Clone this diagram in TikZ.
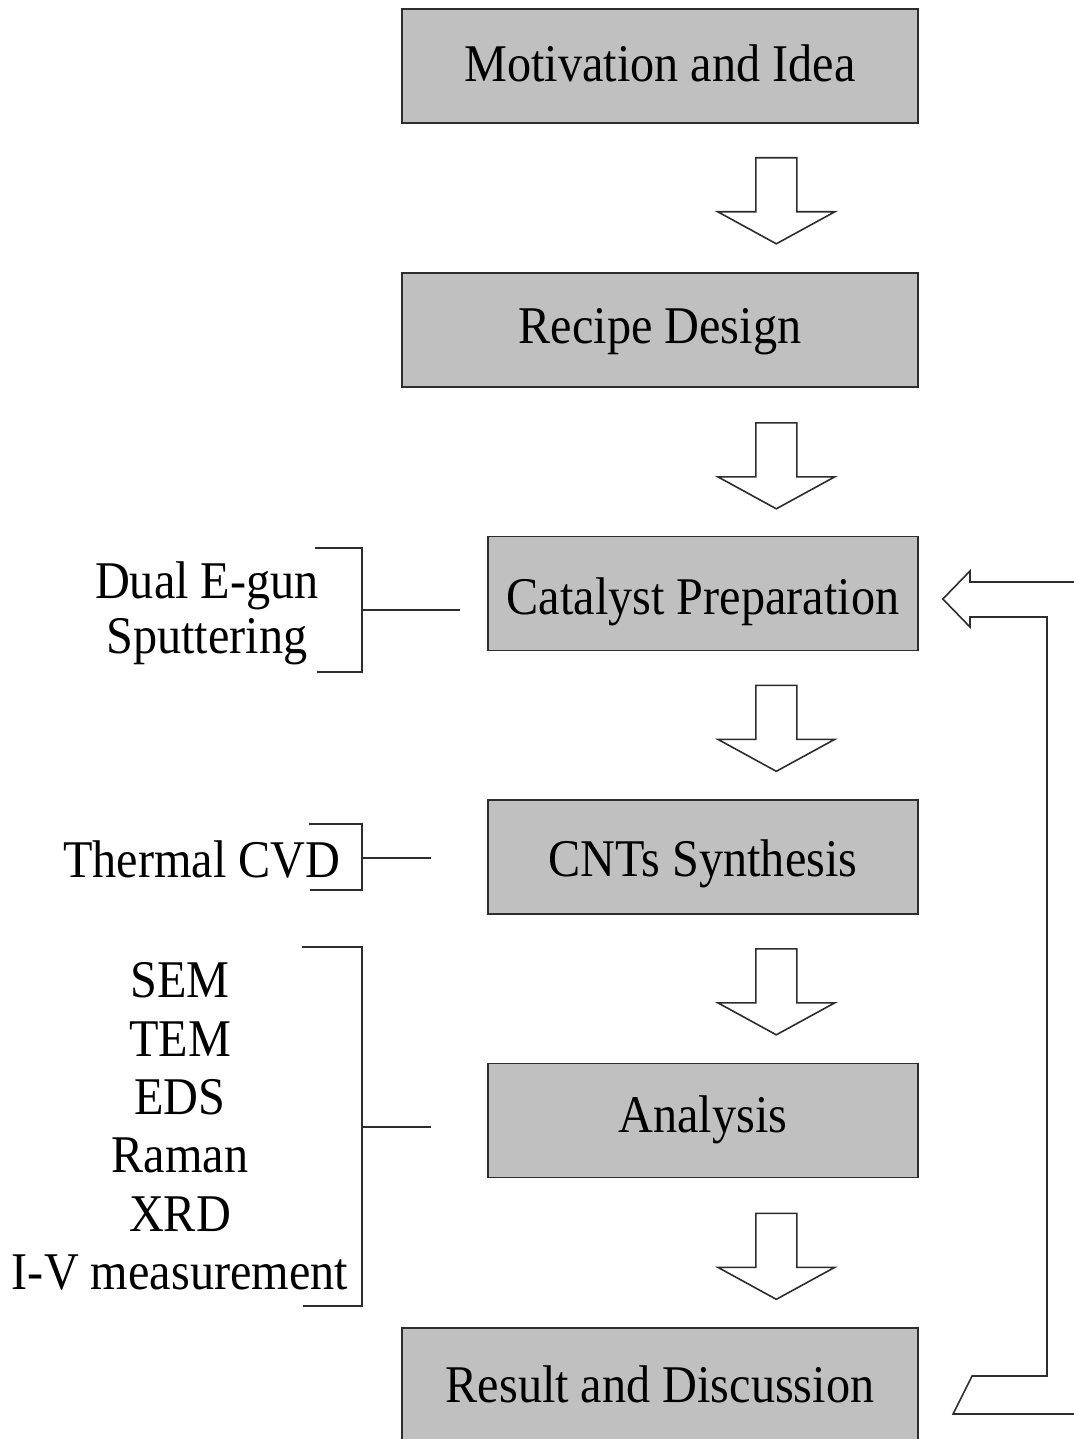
\documentclass[tikz,border=0pt]{standalone}
\usepackage{fontspec}
\setmainfont{Liberation Serif}[FakeStretch=0.91]
\usetikzlibrary{calc}
\definecolor{boxgray}{RGB}{192,192,192}
\definecolor{edgegray}{RGB}{45,45,45}
\begin{document}
\begin{tikzpicture}[x=0.5pt,y=-0.5pt,
  box/.style={draw=edgegray, line width=0.8pt, fill=boxgray,
    minimum width=258pt, minimum height=57pt, inner sep=0pt,
    text height=#1, text depth=0pt, font=\fontsize{26.5pt}{29pt}\selectfont},
  sbox/.style={box=#1, minimum width=215pt},
  lbl/.style={font=\fontsize{26.5pt}{#1}\selectfont, align=center, inner sep=0pt},
  ln/.style={draw=edgegray, line width=0.8pt},
  bigarrow/.style={draw=edgegray, line width=0.8pt, fill=white, line join=miter},
  downarrow/.pic={\path[bigarrow] (-20.5,0) -- (20.5,0) -- (20.5,54) -- (58.5,54)
      -- (0,86) -- (-58.5,54) -- (-20.5,54) -- cycle;}]
\fill[white] (0,0) rectangle (1074,1439);
\useasboundingbox (0,0) rectangle (1074,1439);

% main boxes
\node[box=16pt]  (mot) at (660,66)     {Motivation and Idea};
\node[box=13pt]  (rec) at (660,330)    {Recipe Design};
\node[sbox=21pt] (cat) at (703,593.5)  {Catalyst Preparation};
\node[sbox=19pt] (cnt) at (703,857)    {CNTs Synthesis};
\node[sbox=12pt] (ana) at (703,1120.5) {Analysis};
\node[box=17pt]  (res) at (660,1385)   {Result and Discussion};

% block arrows between boxes
\pic at ($(mot.south east)+(-142.5,34)$) {downarrow};
\pic at ($(rec.south east)+(-142.5,35)$) {downarrow};
\pic at ($(cat.south east)+(-142.5,34)$) {downarrow};
\pic at ($(cnt.south east)+(-142.5,34)$) {downarrow};
\pic at ($(ana.south east)+(-142.5,35)$) {downarrow};

% left labels
\node[lbl=27.5pt] (dual) at (207,613) {Dual E-gun\\Sputtering};
\node[lbl=29pt, anchor=base] (cvd) at (202,877) {Thermal CVD};
\node[lbl=29.2pt] (meas) at (180,1126.5) {SEM\\TEM\\EDS\\Raman\\XRD\\I-V measurement};

% brackets
\coordinate (b1) at (460,610);
\coordinate (b2) at (431,858);
\coordinate (b3) at (431,1127);
\draw[ln] (315,548) -- (362,548) -- (362,672) -- (317,672);
\draw[ln] (362,610) -- (b1);
\draw[ln] (309,824) -- (362,824) -- (362,890) -- (310,890);
\draw[ln] (362,858) -- (b2);
\draw[ln] (302,947) -- (362,947) -- (362,1306) -- (303,1306);
\draw[ln] (362,1127) -- (b3);

% feedback arrow
\coordinate (fbtip) at ($(cat.east)+(24,5.5)$);
\draw[ln, line join=miter] (1080,582) -- (970,582) -- (970,571) -- (fbtip) -- (970,627)
  -- (970,617) -- (1047,617) -- (1047,1376) -- (972,1376) -- (953,1414) -- (1080,1414);
\end{tikzpicture}
\end{document}
